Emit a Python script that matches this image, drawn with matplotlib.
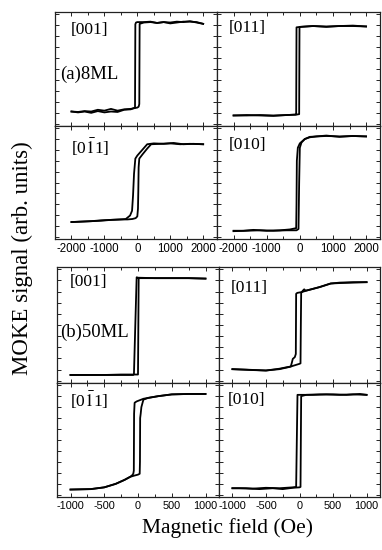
import matplotlib
matplotlib.use("Agg")
import matplotlib.pyplot as plt
from matplotlib.ticker import MultipleLocator

plt.rcParams['axes.unicode_minus'] = False
plt.rcParams['mathtext.fontset'] = 'stix'

# ---------------- data (8 ML) ----------------
# [001]
a001_up_x = [-2000, -1800, -1600, -1400, -1200, -1000, -800, -600, -400, -200, 0, 40, 60, 70, 200, 400, 600, 800, 1000, 1200, 1400, 1600, 1800, 2000]
a001_up_y = [-0.97, -0.98, -0.96, -0.97, -0.93, -0.95, -0.91, -0.95, -0.92, -0.91, -0.88, -0.86, -0.8, 1.03, 1.06, 1.07, 1.05, 1.07, 1.06, 1.08, 1.07, 1.09, 1.06, 1.03]
a001_dn_x = [2000, 1800, 1600, 1400, 1200, 1000, 800, 600, 400, 200, 0, -40, -60, -70, -200, -400, -600, -800, -1000, -1200, -1400, -1600, -1800, -2000]
a001_dn_y = [1.03, 1.07, 1.08, 1.08, 1.06, 1.04, 1.07, 1.05, 1.08, 1.07, 1.07, 1.06, 1.02, -0.88, -0.92, -0.93, -0.98, -0.97, -0.99, -0.96, -1.0, -0.97, -0.99, -0.97]
# [011]
a011_up_x = [-2000, -1600, -1200, -800, -400, -100, -20, -10, 0, 400, 800, 1200, 1600, 2000]
a011_up_y = [-1.06, -1.05, -1.06, -1.07, -1.05, -1.04, -1.03, 0.95, 0.96, 0.98, 0.96, 0.98, 0.98, 0.97]
a011_dn_x = [2000, 1600, 1200, 800, 400, 0, -100, -110, -120, -400, -800, -1200, -1600, -2000]
a011_dn_y = [0.97, 0.99, 0.98, 0.97, 0.98, 0.96, 0.95, -1.03, -1.04, -1.05, -1.06, -1.05, -1.06, -1.06]
# [0-11]
a0m11_up_x = [-2000, -1700, -1400, -1100, -800, -500, -300, -150, -50, 0, 20, 30, 40, 60, 150, 300, 420, 700, 1000, 1300, 1600, 2000]
a0m11_up_y = [-0.91, -0.9, -0.89, -0.88, -0.86, -0.85, -0.85, -0.84, -0.82, -0.78, -0.6, -0.2, 0.35, 0.55, 0.64, 0.78, 0.88, 0.89, 0.9, 0.88, 0.89, 0.88]
a0m11_dn_x = [2000, 1700, 1400, 1100, 800, 500, 300, 150, 0, -60, -100, -130, -160, -220, -350, -500, -800, -1100, -1400, -1700, -2000]
a0m11_dn_y = [0.88, 0.89, 0.88, 0.91, 0.89, 0.9, 0.88, 0.75, 0.62, 0.55, 0.2, -0.3, -0.65, -0.76, -0.84, -0.85, -0.86, -0.87, -0.89, -0.9, -0.91]
# [010]
a010_up_x = [-2000, -1600, -1200, -800, -400, -100, -40, -20, 0, 50, 150, 300, 500, 800, 1200, 1600, 2000]
a010_up_y = [-1.12, -1.11, -1.1, -1.11, -1.1, -1.1, -1.07, 0.0, 0.8, 0.92, 1.0, 1.04, 1.06, 1.07, 1.06, 1.07, 1.06]
a010_dn_x = [2000, 1600, 1200, 800, 500, 300, 150, 0, -60, -90, -100, -110, -300, -600, -1000, -1400, -1700, -2000]
a010_dn_y = [1.06, 1.07, 1.05, 1.08, 1.06, 1.05, 1.0, 0.9, 0.8, 0.5, -0.5, -1.05, -1.08, -1.1, -1.11, -1.09, -1.11, -1.11]

# ---------------- data (50 ML) ----------------
b001_up_x = [-1000, -750, -500, -250, -50, 0, 5, 10, 250, 500, 750, 1000]
b001_up_y = [-1.12, -1.12, -1.12, -1.11, -1.11, -1.11, 0.0, 1.05, 1.05, 1.05, 1.05, 1.04]
b001_dn_x = [1000, 750, 500, 250, 0, -20, -40, -60, -70, -250, -500, -750, -1000]
b001_dn_y = [1.04, 1.05, 1.05, 1.05, 1.06, 1.07, 0.0, -1.1, -1.12, -1.12, -1.12, -1.12, -1.12]

b011_up_x = [-1000, -800, -500, -300, -150, 0, 15, 20, 25, 50, 70, 90, 150, 300, 465, 600, 800, 1000]
b011_up_y = [-0.99, -1.0, -1.02, -0.99, -0.94, -0.87, -0.86, 0.0, 0.72, 0.77, 0.8, 0.77, 0.79, 0.85, 0.93, 0.95, 0.96, 0.96]
b011_dn_x = [1000, 600, 465, 300, 150, 80, 40, -33, -50, -55, -70, -100, -115, -130, -200, -300, -500, -700, -1000]
b011_dn_y = [0.96, 0.94, 0.93, 0.85, 0.79, 0.76, 0.74, 0.72, 0.70, -0.65, -0.72, -0.76, -0.85, -0.93, -0.95, -0.98, -1.02, -1.01, -0.99]

b0m11_up_x = [-1000, -700, -500, -330, -200, -116, -50, 0, 25, 29, 32, 40, 50, 80, 150, 300, 500, 750, 1000]
b0m11_up_y = [-1.13, -1.12, -1.08, -1.0, -0.91, -0.84, -0.81, -0.79, -0.77, -0.5, 0.5, 0.6, 0.75, 0.92, 0.96, 1.0, 1.04, 1.05, 1.05]
b0m11_dn_x = [1000, 750, 500, 300, 150, 80, 30, -20, -50, -58, -62, -70, -90, -116, -200, -330, -500, -700, -1000]
b0m11_dn_y = [1.05, 1.05, 1.04, 1.0, 0.96, 0.94, 0.91, 0.88, 0.85, 0.6, -0.7, -0.77, -0.81, -0.84, -0.91, -1.0, -1.08, -1.12, -1.13]

b010_up_x = [-1000, -800, -600, -400, -250, -100, 0, 15, 20, 25, 100, 300, 500, 700, 900, 1000]
b010_up_y = [-1.1, -1.1, -1.12, -1.1, -1.12, -1.09, -1.08, -1.07, 0.0, 1.0, 1.03, 1.04, 1.04, 1.03, 1.05, 1.03]
b010_dn_x = [1000, 800, 600, 400, 200, 0, -30, -40, -50, -100, -300, -500, -700, -900, -1000]
b010_dn_y = [1.03, 1.04, 1.03, 1.04, 1.03, 1.03, 1.03, 0.0, -1.07, -1.08, -1.1, -1.09, -1.11, -1.1, -1.1]

labels = ["[001]", "[011]", r"[0$\bar{\mathrm{1}}$1]", "[010]"]

top_xticks = [-2000, -1000, 0, 1000, 2000]
bot_xticks = [-1000, -500, 0, 500, 1000]

# ---------------- figure ----------------
W, H = 382, 550
fig = plt.figure(figsize=(W / 100, H / 100), dpi=100)


def ax_at(x0, y0, x1, y1):
    return fig.add_axes([x0 / W, 1 - y1 / H, (x1 - x0) / W, (y1 - y0) / H])


def style(ax, xlim, major, minor, ticks, showx, tfs):
    ax.set_xlim(*xlim)
    ax.set_ylim(-1.3, 1.3)
    ax.xaxis.set_major_locator(MultipleLocator(major))
    ax.xaxis.set_minor_locator(MultipleLocator(minor))
    ax.yaxis.set_major_locator(MultipleLocator(0.25))
    ax.set_xticks(ticks)
    ax.tick_params(which='both', direction='in', top=True, right=True,
                   width=0.7, color='#222222')
    ax.tick_params(which='major', length=3)
    ax.tick_params(which='minor', length=2)
    ax.set_yticklabels([])
    if showx:
        ax.set_xticklabels([str(t) for t in ticks], fontsize=tfs,
                           family='Liberation Sans')
        ax.tick_params(axis='x', pad=3)
    else:
        ax.set_xticklabels([])
    for s in ax.spines.values():
        s.set_linewidth(0.9)
        s.set_color('#222222')


def loop(ax, ux, uy, dx, dy):
    ax.plot(ux, uy, color='black', lw=1.3)
    ax.plot(dx, dy, color='black', lw=1.3)


lkw = dict(family='Liberation Serif', fontsize=12.5, va='center', ha='left')

# top group (8 ML)
tx = [(55, 217), (217, 380)]
ty = [(12, 126), (126, 239)]
top_data = [
    (a001_up_x, a001_up_y, a001_dn_x, a001_dn_y),
    (a011_up_x, a011_up_y, a011_dn_x, a011_dn_y),
    (a0m11_up_x, a0m11_up_y, a0m11_dn_x, a0m11_dn_y),
    (a010_up_x, a010_up_y, a010_dn_x, a010_dn_y),
]
top_lab_pos = [(0.1, 0.84), (0.075, 0.86), (0.1, 0.81), (0.07, 0.83)]
for i in range(4):
    r, c = divmod(i, 2)
    ax = ax_at(tx[c][0], ty[r][0], tx[c][1], ty[r][1])
    style(ax, (-2500, 2420), 1000, 500, top_xticks, r == 1, 8.3)
    loop(ax, *top_data[i])
    ax.text(*top_lab_pos[i], labels[i], transform=ax.transAxes, **lkw)
    if i == 0:
        ax.text(0.03, 0.45, "(a)8ML", transform=ax.transAxes,
                family='Liberation Serif', fontsize=13.5, va='center', ha='left')

# bottom group (50 ML)
bx = [(57, 219), (219, 380)]
by = [(267, 383), (383, 497)]
bot_data = [
    (b001_up_x, b001_up_y, b001_dn_x, b001_dn_y),
    (b011_up_x, b011_up_y, b011_dn_x, b011_dn_y),
    (b0m11_up_x, b0m11_up_y, b0m11_dn_x, b0m11_dn_y),
    (b010_up_x, b010_up_y, b010_dn_x, b010_dn_y),
]
bot_lab_pos = [(0.08, 0.87), (0.07, 0.82), (0.08, 0.85), (0.055, 0.85)]
for i in range(4):
    r, c = divmod(i, 2)
    ax = ax_at(bx[c][0], by[r][0], bx[c][1], by[r][1])
    style(ax, (-1200, 1200), 500, 250, bot_xticks, r == 1, 7.8)
    loop(ax, *bot_data[i])
    ax.text(*bot_lab_pos[i], labels[i], transform=ax.transAxes, **lkw)
    if i == 0:
        ax.text(0.02, 0.44, "(b)50ML", transform=ax.transAxes,
                family='Liberation Serif', fontsize=13.5, va='center', ha='left')

fig.text(22 / W, 1 - 258 / H, "MOKE signal (arb. units)", rotation=90,
         family='Liberation Serif', fontsize=16.5, va='center', ha='center')
fig.text(227 / W, 1 - 528 / H, "Magnetic field (Oe)",
         family='Liberation Serif', fontsize=15.5, va='center', ha='center')

fig.savefig("out.png", dpi=100)
